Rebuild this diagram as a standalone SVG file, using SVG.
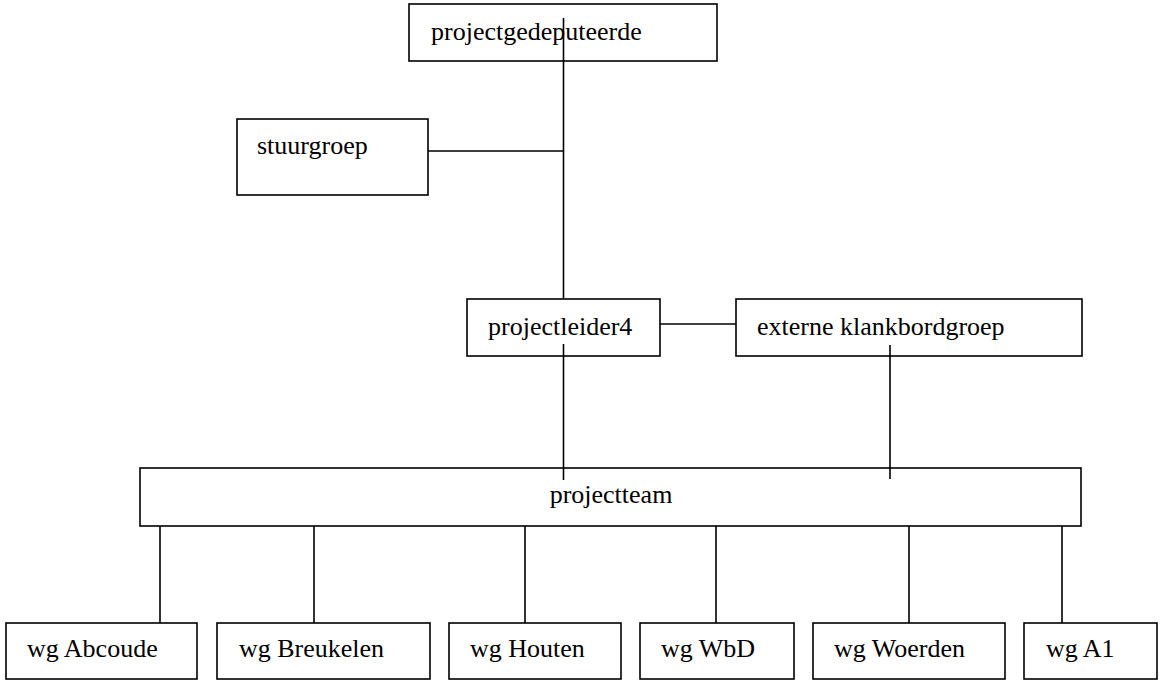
<svg xmlns="http://www.w3.org/2000/svg" width="1160" height="680" viewBox="0 0 1160 680">
<style>
.box{fill:#fff;stroke:#000;stroke-width:1.6}
.t{font-family:"Liberation Serif","Times New Roman",serif;font-size:26px;fill:#000}
.c{fill:none;stroke:#000;stroke-width:1.6}
</style>
<rect width="1160" height="680" fill="#fff"/>
<g id="projectgedeputeerde"><rect class="box" x="409" y="4" width="308" height="57"/><text class="t" x="431" y="40">projectgedeputeerde</text></g>
<g id="stuurgroep"><rect class="box" x="237" y="119" width="191" height="76"/><text class="t" x="257" y="154">stuurgroep</text></g>
<g id="projectleider4"><rect class="box" x="467" y="299" width="193" height="57"/><text class="t" x="488" y="335">projectleider4</text></g>
<g id="externe-klankbordgroep"><rect class="box" x="736" y="299" width="346" height="57"/><text class="t" x="757" y="335">externe klankbordgroep</text></g>
<g id="projectteam"><rect class="box" x="140" y="468" width="941" height="58"/><text class="t" x="611" y="503" text-anchor="middle">projectteam</text></g>
<g id="wg-abcoude"><rect class="box" x="6" y="623" width="191" height="56"/><text class="t" x="27" y="657">wg Abcoude</text></g>
<g id="wg-breukelen"><rect class="box" x="217" y="623" width="213" height="56"/><text class="t" x="239" y="657">wg Breukelen</text></g>
<g id="wg-houten"><rect class="box" x="449" y="623" width="172" height="56"/><text class="t" x="470" y="657">wg Houten</text></g>
<g id="wg-wbd"><rect class="box" x="640" y="623" width="154" height="56"/><text class="t" x="661" y="657">wg WbD</text></g>
<g id="wg-woerden"><rect class="box" x="813" y="623" width="192" height="56"/><text class="t" x="834" y="657">wg Woerden</text></g>
<g id="wg-a1"><rect class="box" x="1024" y="623" width="133" height="56"/><text class="t" x="1046" y="657">wg A1</text></g>
<g id="connectors">
<path class="c" d="M563.5 18 V299"/>
<path class="c" d="M428 151 H564"/>
<path class="c" d="M660 324 H736"/>
<path class="c" d="M563.5 344 V480"/>
<path class="c" d="M890 345 V479"/>
<path class="c" d="M160 526 V623 M314 526 V623 M525 526 V623 M716 526 V623 M909 526 V623 M1062 526 V623"/>
</g>
</svg>
